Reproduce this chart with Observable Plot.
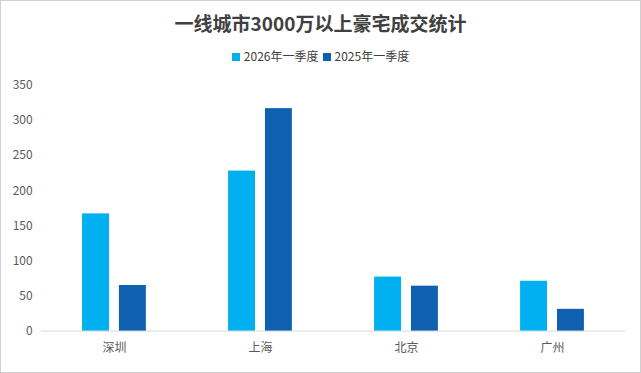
<!DOCTYPE html>
<html><head><meta charset="utf-8">
<script src="https://cdn.jsdelivr.net/npm/d3@7"></script>
<script src="https://cdn.jsdelivr.net/npm/@observablehq/plot@0.6"></script>
<style>
html,body{margin:0;padding:0;background:#fff;}
#wrap{width:641px;height:373px;box-sizing:border-box;border:1px solid #d0d0d0;position:relative;font-family:"Noto Sans CJK SC","Noto Sans",sans-serif;overflow:hidden;}
#title{position:absolute;top:8px;left:0;width:100%;text-align:center;font-size:19px;font-weight:bold;color:#404040;line-height:28px;}
#legend{position:absolute;top:46px;left:0;width:100%;text-align:center;font-size:12px;color:#404040;line-height:18px;}
#legend span.sw{display:inline-block;width:8px;height:8px;margin-right:4px;vertical-align:0px;}
#legend span.item{margin:0 2px;}
#chart{position:absolute;top:71px;left:-1px;}
</style></head>
<body><div id="wrap"><div id="title">一线城市3000万以上豪宅成交统计</div><div id="legend"></div><div id="chart"></div></div>
<script>
const cities = ["深圳","上海","北京","广州"];
const seriesNames = ["2026年一季度","2025年一季度"];
const values2026 = [167, 228, 77, 71];
const values2025 = [65, 317, 64, 31];
const yTicks = [0,50,100,150,200,250,300,350];
const colors = ["#00b0f0","#0f61b0"];

const data = [];
cities.forEach((c,i)=>{
  data.push({city:c, series:seriesNames[0], value:values2026[i]});
  data.push({city:c, series:seriesNames[1], value:values2025[i]});
});

const legend = document.getElementById("legend");
seriesNames.forEach((s,i)=>{
  const it = document.createElement("span");
  it.className="item";
  it.innerHTML = `<span class="sw" style="background:${colors[i]}"></span>${s}`;
  legend.appendChild(it);
});

const plot = Plot.plot({
  width: 641,
  height: 301,
  marginLeft: 41,
  marginRight: 15,
  marginTop: 13,
  marginBottom: 42,
  style:{fontFamily:'"Noto Sans CJK SC","Noto Sans",sans-serif', fontSize:"12px", color:"#595959", background:"transparent"},
  fx:{domain:cities, paddingInner:0.563, paddingOuter:0.2815, label:null, round:false},
  x:{domain:seriesNames, paddingInner:0.27, paddingOuter:0, axis:null, round:false},
  y:{domain:[0,350], ticks:yTicks, label:null},
  color:{domain:seriesNames, range:colors},
  marks:[
    Plot.axisFx({anchor:"bottom", tickSize:0, tickPadding:12, fontSize:12, fill:"#595959"}),
    Plot.axisY({ticks:yTicks, tickSize:0, tickPadding:50, fontSize:12, fill:"#595959", facetAnchor:"left"}),
    Plot.ruleY([0], {stroke:"#d9d9d9", strokeWidth:1, insetLeft:-41.5, insetRight:-41.5}),
    Plot.barY(data, {fx:"city", x:"series", y:"value", fill:"series"}),
  ]
});
document.getElementById("chart").appendChild(plot);
</script></body></html>
